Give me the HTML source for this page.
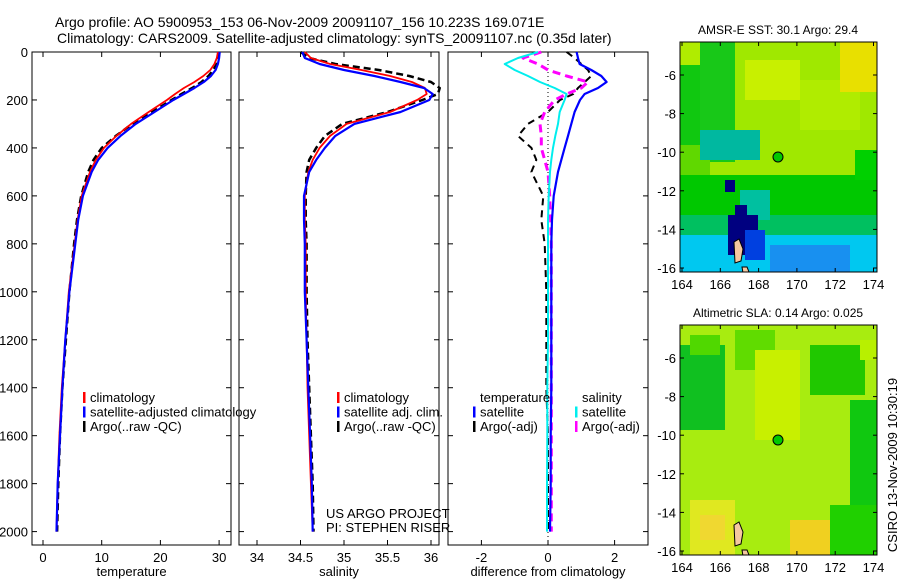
<!DOCTYPE html>
<html><head><meta charset="utf-8"><style>
html,body{margin:0;padding:0;background:#fff;}
svg{display:block;font-family:"Liberation Sans",sans-serif;}
</style></head><body>
<svg id="fig" width="900" height="580" viewBox="0 0 900 580" xmlns="http://www.w3.org/2000/svg">
<defs>
<clipPath id="cm1"><rect x="680" y="42" width="197" height="230"/></clipPath>
<clipPath id="cm2"><rect x="680" y="325" width="197" height="230"/></clipPath>
</defs>
<text x="55" y="27" font-size="14">Argo profile: AO 5900953_153 06-Nov-2009 20091107_156 10.223S 169.071E</text>
<text x="57" y="43" font-size="14">Climatology: CARS2009. Satellite-adjusted climatology: synTS_20091107.nc (0.35d later)</text>
<g id="panels"></g>
<g id="maps"></g>
<text transform="translate(897,465) rotate(-90)" text-anchor="middle" font-size="13">CSIRO 13-Nov-2009 10:30:19</text>
</svg>
<script>
// ---- data ----
const depths = [0,25,50,75,100,125,150,175,200,250,300,350,400,450,500,600,700,800,1000,1200,1400,1600,1800,2000];
const tempClim = [29.8,29.6,29.2,28.5,27.3,25.8,24.0,22.5,21.1,18.0,15.0,12.5,10.4,9.0,8.0,6.6,5.9,5.4,4.4,3.8,3.2,2.8,2.5,2.3];
const tempSat  = [30.1,30.0,29.8,29.4,28.6,27.4,25.8,24.0,22.2,19.0,15.8,13.2,11.0,9.4,8.3,6.8,6.0,5.5,4.5,3.8,3.3,2.9,2.5,2.3];
const tempArgo = [30.0,29.9,29.6,29.0,28.2,27.0,25.4,23.6,21.9,18.6,15.2,12.4,10.0,8.6,7.7,6.5,5.8,5.3,4.5,3.9,3.3,2.9,2.6,2.4];
const salClim  = [34.55,34.62,34.84,35.2,35.53,35.78,35.93,35.95,35.84,35.53,35.03,34.84,34.72,34.64,34.59,34.55,34.55,34.56,34.56,34.57,34.58,34.6,34.62,34.64];
const salSat   = [34.52,34.55,34.72,35.0,35.35,35.65,35.92,36.02,35.98,35.65,35.12,34.9,34.78,34.68,34.6,34.54,34.54,34.55,34.55,34.57,34.59,34.61,34.63,34.64];
const salArgo  = [34.5,34.6,34.9,35.4,35.75,36.0,36.1,36.08,35.9,35.5,34.98,34.78,34.68,34.6,34.57,34.56,34.56,34.57,34.57,34.58,34.6,34.62,34.64,34.65];
const diffTempSat  = [0.86,0.9,0.95,1.3,1.6,1.76,1.5,1.1,0.96,0.8,0.7,0.6,0.5,0.4,0.3,0.17,0.12,0.1,0.1,0.1,0.1,0.08,0.08,0.06];
const diffSalSat   = [-0.3,-0.9,-1.3,-1.0,-0.6,-0.24,0.2,0.56,0.5,0.35,0.3,0.22,0.15,0.1,0.06,0.02,0,0,0,0,-0.02,-0.02,-0.03,-0.03];
const diffTempArgo = [0.56,0.8,1.0,1.2,1.3,1.1,0.9,0.76,0.36,0.0,-0.6,-0.9,-0.5,-0.35,-0.5,-0.14,-0.2,-0.1,-0.05,-0.05,-0.05,0.0,0.0,0.0];
const diffSalArgo  = [-0.2,-0.75,-0.3,0.0,0.56,1.2,1.0,0.56,0.2,-0.1,-0.24,-0.2,-0.2,-0.1,0.0,0.05,0.08,0.1,0.1,0.1,0.1,0.1,0.1,0.1];
const depthTicks = [0,200,400,600,800,1000,1200,1400,1600,1800,2000];
const tempTicks = [0,10,20,30];
const salTicks = [34,34.5,35,35.5,36];
const diffTicks = [-2,0,2];
const lonTicks = [164,166,168,170,172,174];
const latTicks = [-6,-8,-10,-12,-14,-16];

const NS='http://www.w3.org/2000/svg';
function mk(tag, attrs, parent){const e=document.createElementNS(NS,tag);for(const k in attrs)e.setAttribute(k,attrs[k]);parent.appendChild(e);return e;}
const yD = d => 52 + d*0.2398;
const panelsG=document.getElementById('panels');

const panels=[
 {x0:32,x1:231,xs:v=>43+v*5.87,ticks:tempTicks,label:'temperature',name:'temperature-panel'},
 {x0:239,x1:439,xs:v=>257+(v-34)*87,ticks:salTicks,label:'salinity',name:'salinity-panel'},
 {x0:448,x1:648,xs:v=>548+v*33.3,ticks:diffTicks,label:'difference from climatology',name:'difference-panel'}
];
panels.forEach((p,i)=>{
  const g=mk('g',{},panelsG);
  
  
  const fr=mk('rect',{x:p.x0,y:52,width:p.x1-p.x0,height:493,fill:'none',stroke:'#000','stroke-width':1},g);
  
  
  depthTicks.forEach(d=>{
    const y=yD(d);
    mk('line',{x1:p.x0,x2:p.x0+5,y1:y,y2:y,stroke:'#000'},g);
    mk('line',{x1:p.x1-5,x2:p.x1,y1:y,y2:y,stroke:'#000'},g);
    if(i===0){const t=mk('text',{x:p.x0-4,y:y+5,'text-anchor':'end','font-size':13},g);t.textContent=d;
      
      }
  });
  p.ticks.forEach(v=>{
    const x=p.xs(v);
    mk('line',{x1:x,x2:x,y1:545,y2:540,stroke:'#000'},g);
    mk('line',{x1:x,x2:x,y1:52,y2:57,stroke:'#000'},g);
    const t=mk('text',{x:x,y:562,'text-anchor':'middle','font-size':13},g);t.textContent=v;
    
    
  });
  const xl=mk('text',{x:(p.x0+p.x1)/2,y:576,'text-anchor':'middle','font-size':13},g);xl.textContent=p.label;
  
  
});
function line(vals,xs,color,w,dash,name){
  const pts=vals.map((v,k)=>xs(v).toFixed(1)+','+yD(depths[k]).toFixed(1)).join(' ');
  const l=mk('polyline',{points:pts,fill:'none',stroke:color,'stroke-width':w,'stroke-dasharray':dash||'none','stroke-linejoin':'round'},panelsG);
  
  
}
const P=panels;
mk('line',{x1:548,x2:548,y1:52,y2:545,stroke:'#000','stroke-dasharray':'1,3'},panelsG);
line(tempArgo,P[0].xs,'#000',2.5,'7,4','temp-argo-line');
line(tempClim,P[0].xs,'#f00',1.8,null,'temp-clim-line');
line(tempSat,P[0].xs,'#00f',2.2,null,'temp-sat-line');
line(salArgo,P[1].xs,'#000',2.5,'7,4','sal-argo-line');
line(salClim,P[1].xs,'#f00',1.8,null,'sal-clim-line');
line(salSat,P[1].xs,'#00f',2.2,null,'sal-sat-line');
line(diffTempArgo,P[2].xs,'#000',2,'7,5','diff-temp-argo-line');
line(diffSalArgo,P[2].xs,'#f0f',3,'8,5','diff-sal-argo-line');
line(diffTempSat,P[2].xs,'#00f',2.2,null,'diff-temp-sat-line');
line(diffSalSat,P[2].xs,'#0ee',2,null,'diff-sal-sat-line');

function legend(x,y,items){
  items.forEach((it,k)=>{
    const yy=y+k*14.5;
    if(it[1]) mk('rect',{x:x,y:yy-10,width:2.5,height:11,fill:it[1]},panelsG);
    const t=mk('text',{x:x+7,y:yy,'font-size':13},panelsG);t.textContent=it[0];
    
    
  });
}
legend(83,402,[['climatology','#f00'],['satellite-adjusted climatology','#00f'],['Argo(..raw -QC)','#000']]);
legend(337,402,[['climatology','#f00'],['satellite adj. clim.','#00f'],['Argo(..raw -QC)','#000']]);
legend(473,402,[['temperature',null],['satellite','#00f'],['Argo(-adj)','#000']]);
legend(575,402,[['salinity',null],['satellite','#0ee'],['Argo(-adj)','#f0f']]);
const n1=mk('text',{x:326,y:518,'font-size':13},panelsG);n1.textContent='US ARGO PROJECT';


const n2=mk('text',{x:326,y:532,'font-size':13},panelsG);n2.textContent='PI: STEPHEN RISER';



// ---- maps ----
const mapsG=document.getElementById('maps');
const maps=[
 {y0:42,clip:'cm1',title:'AMSR-E SST: 30.1 Argo: 29.4',name:'sst-map',base:'#a0e800',
  blobs:[[680,42,30,30,'#b0ec00'],[680,65,50,80,'#10c810'],[700,42,35,120,'#18c818'],[680,145,30,40,'#60d800'],[745,60,55,40,'#c8f000'],[800,80,60,50,'#b0ec00'],[840,42,37,50,'#e8e000'],
         [680,175,197,45,'#00c800'],[680,215,197,30,'#00c060'],[680,235,197,37,'#00c8f0'],[770,245,80,27,'#1890f0'],[740,190,30,30,'#00c0a0'],
         [725,180,10,12,'#000080'],[735,205,12,20,'#000080'],[728,215,30,40,'#000080'],[745,230,20,30,'#0040e0'],[700,130,60,30,'#00b8a0'],[855,150,22,30,'#00d000']]},
 {y0:325,clip:'cm2',title:'Altimetric SLA: 0.14 Argo: 0.025',name:'sla-map',base:'#a8ec10',
  blobs:[[680,345,45,85,'#10c020'],[690,335,30,20,'#50d800'],[735,330,40,40,'#60dc00'],[810,345,55,50,'#20c800'],[850,400,27,150,'#10c810'],[830,505,47,50,'#20d000'],[690,500,45,55,'#e0e820'],[700,515,25,25,'#f0d830'],[790,520,40,35,'#f0d020'],[755,350,45,90,'#c8f000'],[860,340,17,20,'#b8f000']]}
];
maps.forEach(m=>{
  const g=mk('g',{},mapsG);
  
  
  const cg=mk('g',{'clip-path':'url(#'+m.clip+')'},g);
  mk('rect',{x:680,y:m.y0,width:197,height:230,fill:m.base},cg);
  m.blobs.forEach(b=>mk('rect',{x:b[0],y:b[1],width:b[2],height:b[3],fill:b[4]},cg));
  mk('path',{d:'M734,'+(m.y0+200)+' l5,-3 l4,10 l-2,12 l-6,2 z',fill:'#f5c8a0',stroke:'#000','stroke-width':1},cg);
  mk('path',{d:'M742,'+(m.y0+225)+' l5,0 l2,5 l-6,1 z',fill:'#f5c8a0',stroke:'#000','stroke-width':1},cg);
  const pt=mk('circle',{cx:778,cy:m.y0+115,r:5,fill:'#00c800',stroke:'#000','stroke-width':1},g);
  
  
  mk('rect',{x:680,y:m.y0,width:197,height:230,fill:'none',stroke:'#000'},g);
  const t=mk('text',{x:778,y:m.y0-8,'text-anchor':'middle','font-size':12},g);t.textContent=m.title;
  
  
  lonTicks.forEach(v=>{
    const x=682+(v-164)*19.15;
    mk('line',{x1:x,x2:x,y1:m.y0+230,y2:m.y0+226,stroke:'#000'},g);
    mk('line',{x1:x,x2:x,y1:m.y0,y2:m.y0+4,stroke:'#000'},g);
    const tt=mk('text',{x:x,y:m.y0+247,'text-anchor':'middle','font-size':13},g);tt.textContent=v;
    
    
  });
  latTicks.forEach(v=>{
    const y=m.y0+33+(-6-v)*19.3;
    mk('line',{x1:877,x2:873,y1:y,y2:y,stroke:'#000'},g);
    mk('line',{x1:680,x2:684,y1:y,y2:y,stroke:'#000'},g);
    const tt=mk('text',{x:676,y:y+5,'text-anchor':'end','font-size':13},g);tt.textContent=v;
    
    
  });
});
</script>
</body></html>
